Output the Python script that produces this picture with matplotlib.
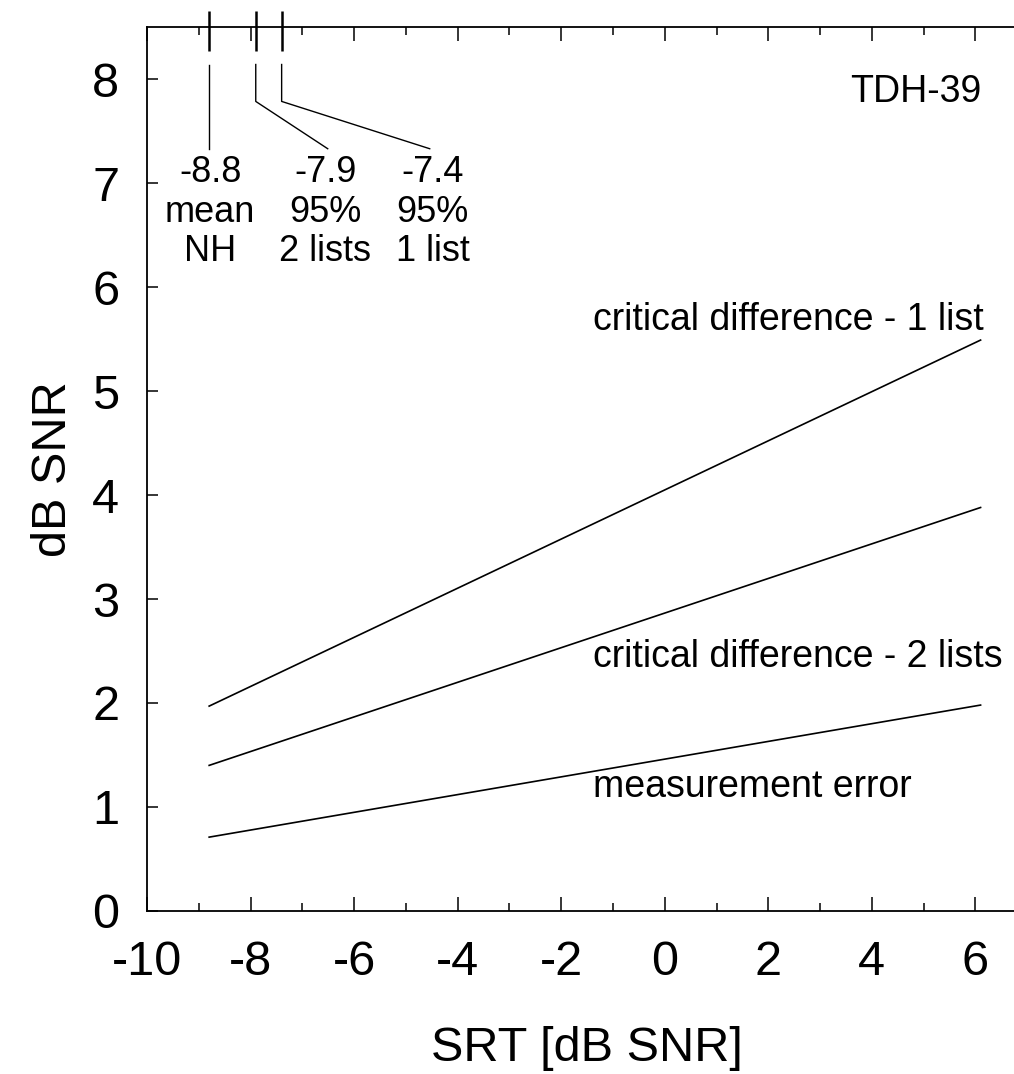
import matplotlib
matplotlib.use("Agg")
import matplotlib.pyplot as plt
from matplotlib.ticker import MultipleLocator

plt.rcParams['font.family'] = ['Liberation Sans', 'DejaVu Sans']
plt.rcParams['axes.unicode_minus'] = False

# Data
srt_range = [-8.8, 6.1]
crit_1_list = [1.97, 5.49]
crit_2_lists = [1.40, 3.88]
meas_error = [0.71, 1.98]

marker_x = [-8.8, -7.9, -7.4]
marker_labels = ["-8.8\nmean\nNH", "-7.9\n95%\n2 lists", "-7.4\n95%\n1 list"]
label_x = [-8.78, -6.56, -4.48]

curve_labels = ["critical difference - 1 list", "critical difference - 2 lists", "measurement error"]
curve_label_y = [5.59, 2.35, 1.10]

xticks = [-10, -8, -6, -4, -2, 0, 2, 4, 6]
yticks = [0, 1, 2, 3, 4, 5, 6, 7, 8]

fig = plt.figure(figsize=(10.14, 10.74), dpi=100)
ax = fig.add_axes([0.145, 0.1518, 0.868, 0.823])

for ys in (crit_1_list, crit_2_lists, meas_error):
    ax.plot(srt_range, ys, color='black', lw=1.2)

ax.set_xlim(-10, 7)
ax.set_ylim(0, 8.5)
ax.set_xticks(xticks)
ax.set_yticks(yticks)
ax.xaxis.set_minor_locator(MultipleLocator(1))
ax.tick_params(axis='x', which='major', direction='in', length=10, width=1.1,
               top=True, labelsize=35, pad=21)
ax.tick_params(axis='x', which='minor', direction='in', length=6, width=1.1, top=True)
ax.tick_params(axis='y', which='major', direction='in', length=8, width=1.1,
               right=True, labelsize=35, pad=20)
for s in ax.spines.values():
    s.set_linewidth(1.3)

ax.set_xlabel("SRT [dB SNR]", fontsize=35)
ax.set_ylabel("dB SNR", fontsize=35)
ax.xaxis.set_label_coords(0.5, -0.130)
ax.yaxis.set_label_coords(-0.081, 0.5)

# Markers on top axis
for mx in marker_x:
    ax.plot([mx, mx], [8.27, 8.655], color='black', lw=1.8, clip_on=False,
            solid_capstyle='butt')

# Leader lines
top_y, knee_y, end_y = 8.14, 7.785, 7.33
ax.plot([marker_x[0], marker_x[0]], [top_y, end_y], color='black', lw=1.0)
ax.plot([marker_x[1], marker_x[1], -6.51], [top_y, knee_y, end_y], color='black', lw=1.0)
ax.plot([marker_x[2], marker_x[2], -4.54], [top_y, knee_y, end_y], color='black', lw=1.0)

for lx, txt in zip(label_x, marker_labels):
    ax.text(lx, 7.27, txt, ha='center', va='top', multialignment='center',
            fontsize=26, linespacing=1.17)

ax.text(6.11, 7.78, "TDH-39", ha='right', va='baseline', fontsize=27)

for txt, ly in zip(curve_labels, curve_label_y):
    ax.text(-1.39, ly, txt, ha='left', va='baseline', fontsize=27)

fig.savefig("out.png", dpi=100)
